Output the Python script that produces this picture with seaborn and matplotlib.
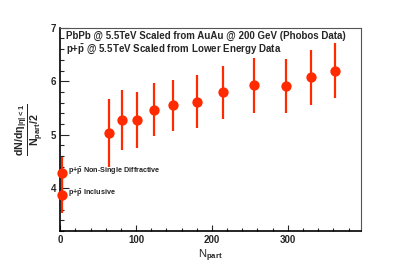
import numpy as np
import pandas as pd
import seaborn as sns
import matplotlib.pyplot as plt
from matplotlib.ticker import MultipleLocator

# PbPb points scaled from AuAu @ 200 GeV
npart = [64, 82, 101, 124, 149, 180, 215, 255, 297, 331, 362]
dndeta = [5.03, 5.28, 5.28, 5.47, 5.55, 5.62, 5.79, 5.92, 5.91, 6.07, 6.20]
err = [0.63, 0.56, 0.52, 0.50, 0.48, 0.49, 0.49, 0.51, 0.50, 0.51, 0.52]

# p+pbar points
pp_npart = [2, 2]
pp_dndeta = [4.28, 3.87]
pp_err = [0.31, 0.34]
pp_labels = [r"p+$\bar{\mathbf{p}}$ Non-Single Diffractive", r"p+$\bar{\mathbf{p}}$ Inclusive"]

red = "#ff2a00"

sns.set_style("ticks")
plt.rcParams["font.family"] = ["Liberation Sans", "DejaVu Sans"]
plt.rcParams["font.weight"] = "bold"
plt.rcParams["mathtext.fontset"] = "custom"
plt.rcParams["mathtext.rm"] = "Liberation Sans:bold"
plt.rcParams["mathtext.it"] = "Liberation Sans:bold"
plt.rcParams["mathtext.bf"] = "Liberation Sans:bold"

df = pd.DataFrame({"npart": npart + pp_npart, "dndeta": dndeta + pp_dndeta,
                   "err": err + pp_err})

fig = plt.figure(figsize=(4.02, 2.72), dpi=100)
ax = fig.add_axes([0.15, 0.151, 0.749, 0.747])

ax.errorbar(df["npart"], df["dndeta"], yerr=df["err"], fmt="none",
            ecolor=red, elinewidth=1.6, capsize=0, zorder=2)
sns.scatterplot(data=df, x="npart", y="dndeta", color=red, s=55,
                edgecolor=red, linewidth=0, ax=ax, zorder=3, clip_on=False)

ax.set_xlim(0, 397)
ax.set_ylim(3.2, 7)
ax.xaxis.set_major_locator(MultipleLocator(100))
ax.xaxis.set_minor_locator(MultipleLocator(20))
ax.yaxis.set_major_locator(MultipleLocator(1))
ax.yaxis.set_minor_locator(MultipleLocator(0.2))
ax.tick_params(which="both", direction="in", labelsize=7, pad=3, width=0.8)
ax.tick_params(axis="y", which="major", length=6.5)
ax.tick_params(axis="y", which="minor", length=3)
ax.tick_params(axis="x", which="major", length=4.5)
ax.tick_params(axis="x", which="minor", length=2.2)

for s in ["left", "bottom"]:
    ax.spines[s].set_linewidth(1.2)
    ax.spines[s].set_color("black")
for s in ["right", "top"]:
    ax.spines[s].set_linewidth(0.8)
    ax.spines[s].set_color("#555555")

ax.set_xlabel(r"N$_{\mathrm{part}}$", fontsize=8, labelpad=2)
ax.set_ylabel(r"$\frac{\mathrm{dN/d\eta_{|\eta|<1}}}{\mathrm{N_{part}/2}}$", fontsize=11, labelpad=3)

ax.text(0.02, 0.962, "PbPb @ 5.5TeV Scaled from AuAu @ 200 GeV (Phobos Data)",
        transform=ax.transAxes, fontsize=7, va="center", ha="left")
ax.text(0.02, 0.892, r"p+$\bar{\mathbf{p}}$ @ 5.5TeV Scaled from Lower Energy Data",
        transform=ax.transAxes, fontsize=7, va="center", ha="left")
for yv, lab in zip(pp_dndeta, pp_labels):
    ax.text(10, yv + 0.04, lab, fontsize=5.2, va="center", ha="left")

fig.savefig("out.png", dpi=100)
